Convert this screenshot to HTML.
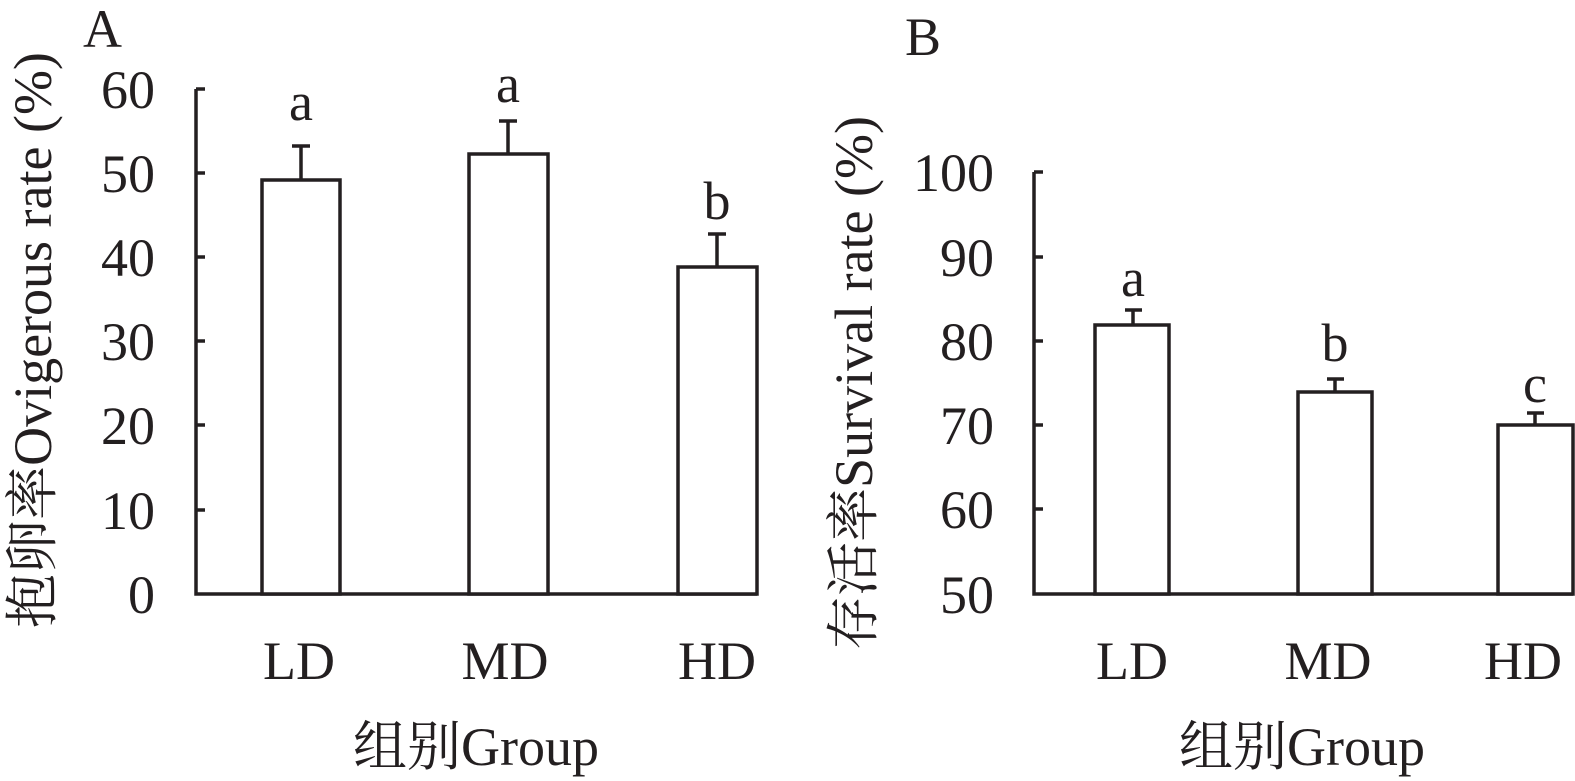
<!DOCTYPE html>
<html>
<head>
<meta charset="utf-8">
<style>
html,body{margin:0;padding:0;background:#fff;}
svg{display:block;}
text{font-family:"Liberation Serif","Noto Serif CJK SC",serif;fill:#231f20;font-size:54px;}
</style>
</head>
<body>
<svg width="1575" height="781" viewBox="0 0 1575 781" xmlns="http://www.w3.org/2000/svg">
<g stroke="#231f20" stroke-width="3.5" fill="none" stroke-linecap="butt">
  <!-- Panel A axes -->
  <polyline points="196,89 196,594 757,594"/>
  <line x1="196" y1="89" x2="205" y2="89"/>
  <line x1="196" y1="173" x2="205" y2="173"/>
  <line x1="196" y1="257" x2="205" y2="257"/>
  <line x1="196" y1="341" x2="205" y2="341"/>
  <line x1="196" y1="425" x2="205" y2="425"/>
  <line x1="196" y1="510" x2="205" y2="510"/>
  <!-- Panel A bars -->
  <rect x="262" y="180" width="78" height="414" fill="#fff"/>
  <rect x="469" y="154" width="79" height="440" fill="#fff"/>
  <rect x="678" y="267" width="79" height="327" fill="#fff"/>
  <!-- Panel A error bars -->
  <line x1="301" y1="180" x2="301" y2="146"/><line x1="292" y1="146" x2="310" y2="146"/>
  <line x1="508" y1="154" x2="508" y2="121"/><line x1="499" y1="121" x2="517" y2="121"/>
  <line x1="717" y1="267" x2="717" y2="234"/><line x1="708" y1="234" x2="726" y2="234"/>

  <!-- Panel B axes -->
  <polyline points="1034,172 1034,594 1573,594"/>
  <line x1="1034" y1="172" x2="1043" y2="172"/>
  <line x1="1034" y1="257" x2="1043" y2="257"/>
  <line x1="1034" y1="341" x2="1043" y2="341"/>
  <line x1="1034" y1="425" x2="1043" y2="425"/>
  <line x1="1034" y1="509" x2="1043" y2="509"/>
  <!-- Panel B bars -->
  <rect x="1095" y="325" width="74" height="269" fill="#fff"/>
  <rect x="1298" y="392" width="74" height="202" fill="#fff"/>
  <rect x="1498" y="425" width="75" height="169" fill="#fff"/>
  <!-- Panel B error bars -->
  <line x1="1133" y1="325" x2="1133" y2="310"/><line x1="1125" y1="310" x2="1142" y2="310"/>
  <line x1="1335" y1="392" x2="1335" y2="379"/><line x1="1327" y1="379" x2="1344" y2="379"/>
  <line x1="1535" y1="425" x2="1535" y2="413"/><line x1="1527" y1="413" x2="1544" y2="413"/>
</g>

<!-- Panel A text -->
<text x="83" y="47">A</text>
<g text-anchor="end">
  <text x="155" y="108">60</text>
  <text x="155" y="192">50</text>
  <text x="155" y="276">40</text>
  <text x="155" y="360">30</text>
  <text x="155" y="444">20</text>
  <text x="155" y="529">10</text>
  <text x="155" y="613">0</text>
</g>
<g text-anchor="middle">
  <text x="301" y="120">a</text>
  <text x="508" y="102">a</text>
  <text x="717" y="219">b</text>
  <text x="299" y="679">LD</text>
  <text x="505" y="679">MD</text>
  <text x="717" y="679">HD</text>
  <text x="476" y="765">组别Group</text>
  <text transform="translate(51,340) rotate(-90)">抱卵率Ovigerous rate (%)</text>
</g>

<!-- Panel B text -->
<text x="905" y="55">B</text>
<g text-anchor="end">
  <text x="994" y="191">100</text>
  <text x="994" y="276">90</text>
  <text x="994" y="360">80</text>
  <text x="994" y="444">70</text>
  <text x="994" y="528">60</text>
  <text x="994" y="613">50</text>
</g>
<g text-anchor="middle">
  <text x="1133" y="296">a</text>
  <text x="1335" y="361">b</text>
  <text x="1535" y="402">c</text>
  <text x="1132" y="679">LD</text>
  <text x="1328" y="679">MD</text>
  <text x="1523" y="679">HD</text>
  <text x="1302" y="765">组别Group</text>
  <text transform="translate(872,383) rotate(-90)">存活率Survival rate (%)</text>
</g>
</svg>
</body>
</html>
